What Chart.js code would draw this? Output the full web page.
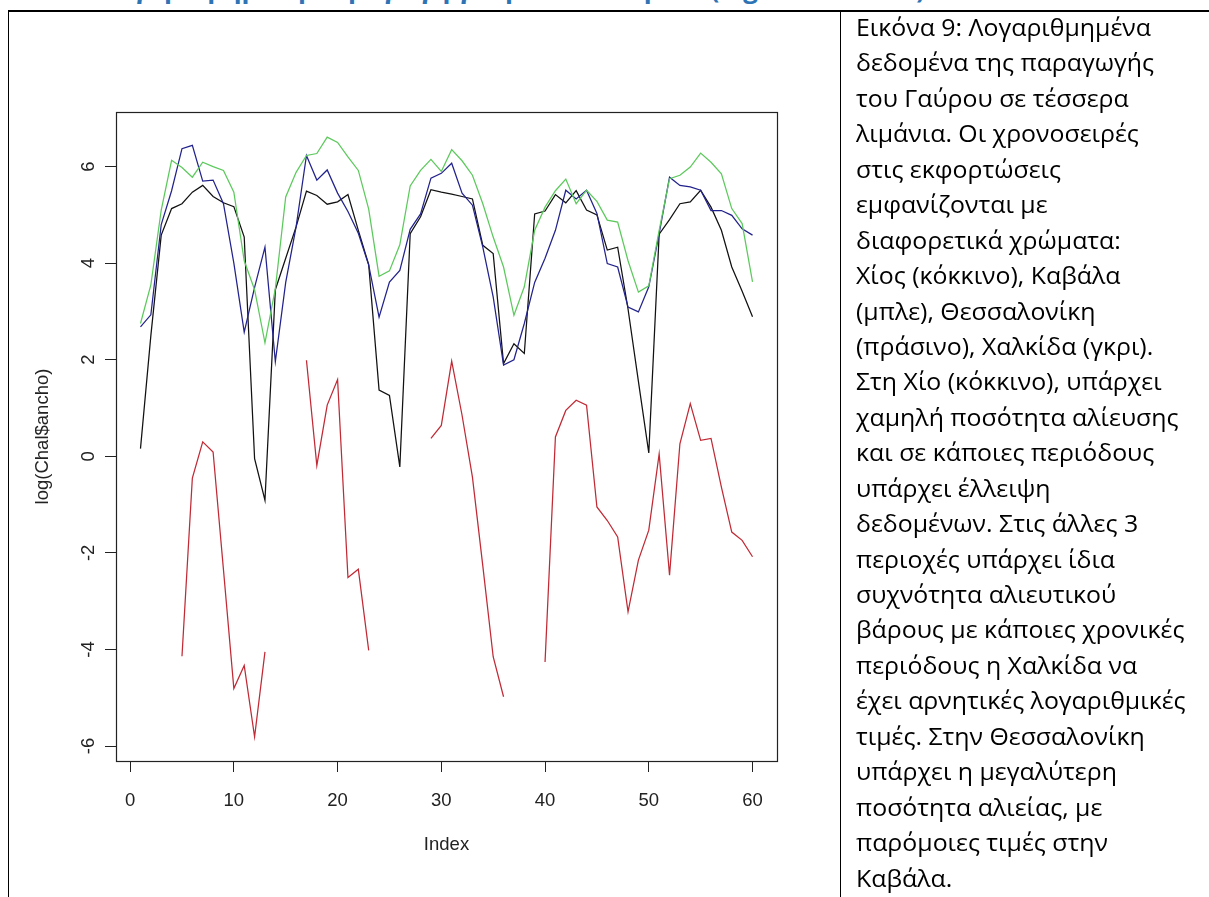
<!DOCTYPE html>
<html><head><meta charset="utf-8">
<script src="https://cdn.jsdelivr.net/npm/chart.js@4.4.1/dist/chart.umd.min.js"></script>
<style>
html,body{margin:0;padding:0;background:#fff;width:1209px;height:897px;overflow:hidden;position:relative}
#wrap{position:absolute;left:0;top:0;width:840px;height:897px}
.hl{position:absolute;background:#000}
#txt{position:absolute;left:856px;top:10px;font-family:"Open Sans";font-size:23px;color:#000;transform-origin:0 0;white-space:nowrap}
#txt div{height:35.45px;line-height:35.45px}
#head{position:absolute;left:100px;top:-30px;font-family:"Open Sans";font-weight:bold;font-size:26px;line-height:normal;color:#2e74b5;white-space:nowrap}
</style></head>
<body>
<div id="head">Λογαριθμημένη παραγωγή γαύρου ανά λιμάνι (log Chal$ancho)</div>
<div id="wrap"><canvas id="c" width="840" height="897"></canvas></div>
<div class="hl" style="left:8px;top:10px;width:1201px;height:1.5px"></div>
<div class="hl" style="left:7.5px;top:10px;width:1.2px;height:887px"></div>
<div class="hl" style="left:839.5px;top:10px;width:1.5px;height:887px"></div>
<div id="txt"></div>
<script>
// ---- data (Index 1..60) ----
const indexValues = Array.from({length: 60}, (_, i) => i + 1);
const xTicks = [0, 10, 20, 30, 40, 50, 60];
const yTicks = [-6, -4, -2, 0, 2, 4, 6];

// Thessaloniki (green)
const thessaloniki = [2.75,3.55,5.10,6.13,5.98,5.78,6.09,6.00,5.92,5.47,
  4.05,3.45,2.35,3.47,5.37,5.88,6.23,6.27,6.61,6.50,
  6.20,5.92,5.12,3.73,3.84,4.38,5.60,5.92,6.15,5.90,
  6.35,6.12,5.82,5.23,4.54,3.92,2.92,3.51,4.68,5.16,
  5.50,5.74,5.23,5.51,5.28,4.89,4.85,4.05,3.40,3.53,
  4.68,5.75,5.82,5.99,6.28,6.09,5.85,5.13,4.82,3.61];
// Kavala (blue)
const kavala = [2.68,2.93,4.80,5.50,6.37,6.44,5.70,5.72,5.23,4.00,
  2.57,3.50,4.33,1.96,3.60,4.75,6.23,5.72,5.93,5.45,
  5.07,4.62,3.96,2.88,3.61,3.85,4.70,5.02,5.76,5.86,
  6.07,5.45,5.20,4.33,3.30,1.89,2.00,2.75,3.60,4.10,
  4.68,5.51,5.33,5.51,5.03,3.99,3.92,3.09,2.99,3.51,
  4.61,5.78,5.61,5.58,5.51,5.09,5.09,4.99,4.71,4.58];
// Chalkida (black)
const chalkida = [0.16,2.50,4.58,5.13,5.23,5.47,5.61,5.38,5.25,5.17,
  4.54,-0.05,-0.91,3.45,4.10,4.75,5.49,5.40,5.22,5.27,
  5.42,4.68,3.97,1.37,1.26,-0.22,4.61,4.96,5.52,5.47,
  5.43,5.38,5.33,4.37,4.20,1.92,2.33,2.13,5.02,5.08,
  5.42,5.25,5.50,5.10,5.00,4.27,4.33,3.05,1.55,0.07,
  4.60,4.90,5.23,5.27,5.51,5.16,4.68,3.92,3.42,2.89];
// Chios (red), null = missing
const chios = [null,null,null,null,-4.14,-0.45,0.30,0.09,-2.35,-4.81,
  -4.33,-5.81,-4.05,null,null,null,1.99,-0.19,1.06,1.59,
  -2.51,-2.34,-4.02,null,null,null,null,null,0.37,0.64,
  1.97,0.85,-0.43,-2.27,-4.15,-4.98,null,null,null,-4.26,
  0.40,0.95,1.16,1.06,-1.05,-1.33,-1.67,-3.22,-2.15,-1.53,
  0.05,-2.46,0.26,1.09,0.33,0.37,-0.64,-1.57,-1.74,-2.08];

const captionLines = [
  "Εικόνα 9: Λογαριθμημένα",
  "δεδομένα της παραγωγής",
  "του Γαύρου σε τέσσερα",
  "λιμάνια. Οι χρονοσειρές",
  "στις εκφορτώσεις",
  "εμφανίζονται με",
  "διαφορετικά χρώματα:",
  "Χίος (κόκκινο), Καβάλα",
  "(μπλε), Θεσσαλονίκη",
  "(πράσινο), Χαλκίδα (γκρι).",
  "Στη Χίο (κόκκινο), υπάρχει",
  "χαμηλή ποσότητα αλίευσης",
  "και σε κάποιες περιόδους",
  "υπάρχει έλλειψη",
  "δεδομένων. Στις άλλες 3",
  "περιοχές υπάρχει ίδια",
  "συχνότητα αλιευτικού",
  "βάρους με κάποιες χρονικές",
  "περιόδους η Χαλκίδα να",
  "έχει αρνητικές λογαριθμικές",
  "τιμές. Στην Θεσσαλονίκη",
  "υπάρχει η μεγαλύτερη",
  "ποσότητα αλιείας, με",
  "παρόμοιες τιμές στην",
  "Καβάλα."
];

// ---- caption text ----
const txt = document.getElementById('txt');
captionLines.forEach(l => { const d = document.createElement('div'); d.textContent = l; txt.appendChild(d); });
(function(){
  const m = document.createElement('canvas').getContext('2d');
  m.font = '23px "Open Sans"';
  const w = m.measureText(captionLines[0]).width;
  const s = 295 / w;
  txt.style.transform = 'scaleX(' + s.toFixed(4) + ')';
})();

// ---- chart ----
const toXY = arr => arr.map((v, i) => ({x: indexValues[i], y: v}));
const axisFont = {family: 'Liberation Sans', size: 18.5};
const inkColor = '#222';

const boxPlugin = {
  id: 'box',
  afterDraw(chart) {
    const {ctx, chartArea: a} = chart;
    ctx.save();
    ctx.strokeStyle = inkColor; ctx.lineWidth = 1.2;
    ctx.strokeRect(Math.round(a.left) + 0.5, Math.round(a.top) + 0.5,
                   Math.round(a.right - a.left), Math.round(a.bottom - a.top));
    // y tick labels, rotated like R (las=0)
    const s = chart.scales.y;
    ctx.font = axisFont.size + 'px "' + axisFont.family + '"';
    ctx.fillStyle = inkColor; ctx.textAlign = 'center'; ctx.textBaseline = 'alphabetic';
    yTicks.forEach(v => {
      const py = s.getPixelForValue(v);
      ctx.save(); ctx.translate(a.left - 22.5, py); ctx.rotate(-Math.PI / 2);
      ctx.fillText(String(v), 0, 0); ctx.restore();
    });
    ctx.restore();
  }
};

new Chart(document.getElementById('c'), {
  type: 'line',
  data: {
    datasets: [
      {label: 'Θεσσαλονίκη', data: toXY(thessaloniki), borderColor: '#5cc95c', borderWidth: 1.25, order: 1},
      {label: 'Καβάλα', data: toXY(kavala), borderColor: '#22228c', borderWidth: 1.25, order: 2},
      {label: 'Χίος', data: toXY(chios), borderColor: '#c02a35', borderWidth: 1.25, spanGaps: false, order: 3},
      {label: 'Χαλκίδα', data: toXY(chalkida), borderColor: '#111111', borderWidth: 1.25, order: 4}
    ]
  },
  options: {
    responsive: false, animation: false, devicePixelRatio: 1,
    layout: {padding: {left: 20, top: 112, right: 63, bottom: 26}},
    plugins: {legend: {display: false}, tooltip: {enabled: false}},
    elements: {point: {radius: 0}, line: {tension: 0, fill: false}},
    scales: {
      x: {
        type: 'linear', min: -1.36, max: 62.36,
        afterBuildTicks: s => { s.ticks = xTicks.map(v => ({value: v})); },
        afterFit: s => { s.height = 110; },
        grid: {drawOnChartArea: false, drawTicks: true, tickLength: 11, color: inkColor, tickColor: inkColor, tickWidth: 1},
        border: {display: true, color: inkColor, width: 1},
        ticks: {padding: 18, color: inkColor, font: axisFont, maxRotation: 0, autoSkip: false},
        title: {display: true, text: 'Index', color: inkColor, font: axisFont, padding: {top: 0, bottom: 15}}
      },
      y: {
        type: 'linear', min: -6.31, max: 7.13,
        afterBuildTicks: s => { s.ticks = yTicks.map(v => ({value: v})); },
        afterFit: s => { s.width = 96; },
        grid: {drawOnChartArea: false, drawTicks: true, tickLength: 11, color: inkColor, tickColor: inkColor, tickWidth: 1},
        border: {display: true, color: inkColor, width: 1},
        ticks: {display: false},
        title: {display: true, text: 'log(Chal$ancho)', color: inkColor, font: axisFont, padding: {top: 12, bottom: 0}}
      }
    }
  },
  plugins: [boxPlugin]
});
</script>
</body></html>
